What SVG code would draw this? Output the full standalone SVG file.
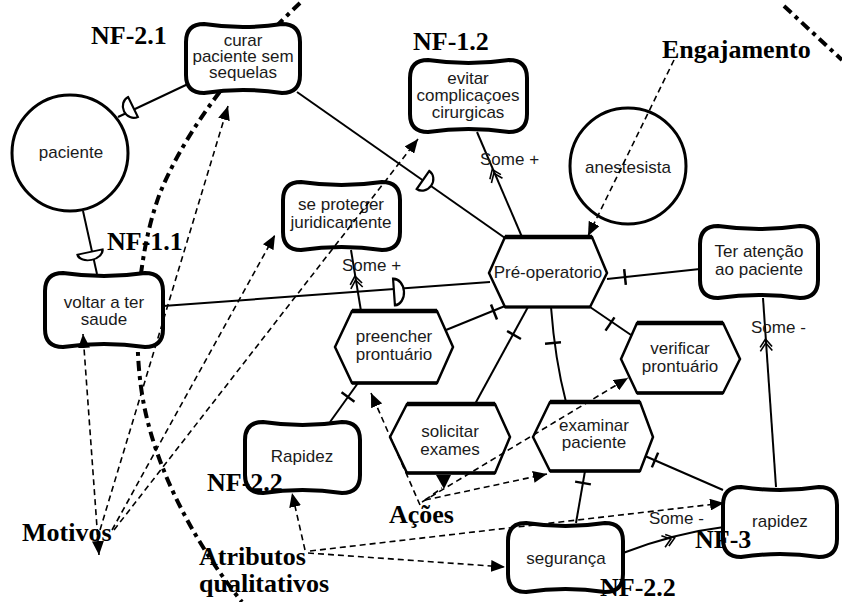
<svg xmlns="http://www.w3.org/2000/svg" xmlns:xlink="http://www.w3.org/1999/xlink" width="842" height="602" viewBox="0 0 842 602">
<style>
.bg{fill:#fff}
.soft{fill:#fff;stroke:#000;stroke-width:4;stroke-linejoin:round}
.hex{fill:#fff;stroke:#000;stroke-width:2.5;stroke-linejoin:miter}
.edge{stroke:#000;stroke-width:4.5;fill:none}
.circ{fill:#fff;stroke:#000;stroke-width:3}
.t{font-family:"Liberation Sans",Arial,sans-serif;font-size:17px;fill:#1a1a1a;text-anchor:middle}
.s{font-family:"Liberation Sans",Arial,sans-serif;font-size:17px;fill:#1a1a1a}
.lbl{font-family:"Liberation Serif","Times New Roman",serif;font-size:26px;font-weight:bold;fill:#000}
.ln{stroke:#000;stroke-width:2;fill:none}
.dash{stroke:#000;stroke-width:1.6;fill:none;stroke-dasharray:6 4}
.thick{stroke:#000;stroke-width:4;fill:none;stroke-dasharray:10 5 4 5}
.dep{fill:#fff;stroke:#000;stroke-width:2.2}
.tick{stroke:#000;stroke-width:2.5;fill:none}
.ctb{stroke:#000;stroke-width:1.6;fill:none}
</style>
<defs>
<marker id="ah" viewBox="0 0 14 12" refX="14" refY="6" markerWidth="14" markerHeight="12" markerUnits="userSpaceOnUse" orient="auto-start-reverse"><path d="M0,0 L14,6 L0,12 Z" fill="#000"/></marker>
<path id="dsym" d="M0,-11 L0,11 A10,11 0 0 0 0,-11 Z"/>
<path id="tk" d="M0,-8 L0,8"/>
<path id="cb" d="M-5,-6 L3,0 L-5,6 M-1,-6 L7,0 L-1,6"/>
</defs>
<rect class="bg" x="0" y="0" width="842" height="602"/>

<g id="backdrop-curves">
<path class="thick" d="M300,3 C250,50 190,120 160,193 C135,260 132,350 145,410 C160,480 200,550 242,602"/>
<path class="thick" d="M784,6 L842,60"/>
</g>

<g id="solid-connectors">
<path class="ln" d="M188,84 L118,117"/>
<path class="ln" d="M297,92 L505,238"/>
<path class="ln" d="M83,211 L97,274"/>
<path class="ln" d="M163,306 L490,282"/>
<path class="ln" d="M477,132 L522,237"/>
<path class="ln" d="M351,250 L361,311"/>
<path class="ln" d="M607,279 L700,269"/>
<path class="ln" d="M446,330 L505,306"/>
<path class="ln" d="M528,307 L475,404"/>
<path class="ln" d="M551,307 Q555,360 566,402"/>
<path class="ln" d="M590,307 L631,335"/>
<path class="ln" d="M763,298 L776,487"/>
<path class="ln" d="M723,490 L645,456"/>
<path class="ln" d="M585,471 L576,523"/>
<path class="ln" d="M330,422 L358,383"/>
<path class="ln" d="M623,553 Q675,533 724,527"/>
<use href="#dsym" class="dep" transform="translate(133,107) rotate(154)"/>
<use href="#dsym" class="dep" transform="translate(423,180) rotate(35)"/>
<use href="#dsym" class="dep" transform="translate(90,252) rotate(78) scale(0.8,1.15)"/>
<use href="#dsym" class="dep" transform="translate(394,292) rotate(-4) scale(1,1.2)"/>
<use href="#tk" class="tick" transform="translate(625,277) rotate(-6)"/>
<use href="#tk" class="tick" transform="translate(494,312) rotate(-22)"/>
<use href="#tk" class="tick" transform="translate(514,335) rotate(120)"/>
<use href="#tk" class="tick" transform="translate(553,343) rotate(85)"/>
<use href="#tk" class="tick" transform="translate(610,324) rotate(34)"/>
<use href="#tk" class="tick" transform="translate(655,460) rotate(23)"/>
<use href="#tk" class="tick" transform="translate(583,483) rotate(100)"/>
<use href="#tk" class="tick" transform="translate(348,397) rotate(-54)"/>
<use href="#cb" class="ctb" transform="translate(495,176) rotate(-113)"/>
<use href="#cb" class="ctb" transform="translate(356,283) rotate(-99)"/>
<use href="#cb" class="ctb" transform="translate(766,346) rotate(-94)"/>
<use href="#cb" class="ctb" transform="translate(668,540) rotate(-18)"/>
<text class="s" x="480" y="165">Some +</text>
<text class="s" x="342" y="271">Some +</text>
<text class="s" x="751" y="333">Some -</text>
<text class="s" x="649" y="524">Some -</text>
</g>

<g id="node-curar">
<path class="soft" d="M204,24 Q243,30 282,24 Q300,24 300,42 L300,75 Q300,93 282,93 Q243,87 204,93 Q186,93 186,75 L186,42 Q186,24 204,24 Z"/>
<text class="t" x="243" y="46">curar</text>
<text class="t" x="243" y="62">paciente sem</text>
<text class="t" x="243" y="78">sequelas</text>
</g>
<g id="node-paciente">
<circle class="circ" cx="70" cy="153" r="58"/>
<text class="t" x="71" y="158">paciente</text>
</g>
<g id="node-evitar">
<path class="soft" d="M428,60 Q468.5,66 509,60 Q527,60 527,78 L527,114 Q527,132 509,132 Q468.5,126 428,132 Q410,132 410,114 L410,78 Q410,60 428,60 Z"/>
<text class="t" x="468" y="84">evitar</text>
<text class="t" x="468" y="101">complicaçoes</text>
<text class="t" x="468" y="118">cirurgicas</text>
</g>
<g id="node-anestesista">
<circle class="circ" cx="628" cy="166" r="58"/>
<text class="t" x="628" y="173">anestesista</text>
</g>
<g id="node-proteger">
<path class="soft" d="M301,182 Q341.5,188 382,182 Q400,182 400,200 L400,232 Q400,250 382,250 Q341.5,244 301,250 Q283,250 283,232 L283,200 Q283,182 301,182 Z"/>
<text class="t" x="341" y="210">se proteger</text>
<text class="t" x="341" y="228">juridicamente</text>
</g>
<g id="node-preoperatorio">
<polygon class="hex" points="489,273 505,237 592,237 607,273 590,307 505,307"/>
<path class="edge" d="M505,237 L592,237"/>
<path class="ln" d="M505,307 L590,307" style="stroke-width:3"/>
<text class="t" x="548" y="278">Pré-operatorio</text>
</g>
<g id="node-teratencao">
<path class="soft" d="M718,226 Q759,232 800,226 Q818,226 818,244 L818,280 Q818,298 800,298 Q759,292 718,298 Q700,298 700,280 L700,244 Q700,226 718,226 Z"/>
<text class="t" x="759" y="257">Ter atenção</text>
<text class="t" x="759" y="275">ao paciente</text>
</g>
<g id="node-voltar">
<path class="soft" d="M63,273 Q104,279 145,273 Q163,273 163,291 L163,329 Q163,347 145,347 Q104,341 63,347 Q45,347 45,329 L45,291 Q45,273 63,273 Z"/>
<text class="t" x="104" y="308">voltar a ter</text>
<text class="t" x="104" y="325">saude</text>
</g>
<g id="node-preencher">
<polygon class="hex" points="335,347 352,311 437,311 453,347 437,383 352,383"/>
<path class="edge" d="M352,311 L437,311"/>
<path class="edge" d="M352,383 L437,383" style="stroke-width:3.5"/>
<text class="t" x="394" y="342">preencher</text>
<text class="t" x="394" y="360">prontuário</text>
</g>
<g id="node-verificar">
<polygon class="hex" points="621,359 637,323 723,323 740,359 723,393 637,393"/>
<path class="edge" d="M637,323 L723,323"/>
<path class="edge" d="M637,393 L723,393" style="stroke-width:3.5"/>
<text class="t" x="680" y="354">verificar</text>
<text class="t" x="680" y="372">prontuário</text>
</g>
<g id="node-solicitar">
<polygon class="hex" points="390,437 407,404 495,404 510,437 495,473 407,473"/>
<path class="edge" d="M407,404 L495,404"/>
<path class="edge" d="M407,473 L495,473" style="stroke-width:3.5"/>
<text class="t" x="450" y="437">solicitar</text>
<text class="t" x="450" y="455">exames</text>
</g>
<g id="node-examinar">
<polygon class="hex" points="533,437 550,402 640,402 653,437 640,471 550,471"/>
<path class="edge" d="M550,402 L640,402"/>
<path class="edge" d="M550,471 L640,471" style="stroke-width:3.5"/>
<text class="t" x="594" y="431">examinar</text>
<text class="t" x="594" y="448">paciente</text>
</g>
<g id="node-Rapidez">
<path class="soft" d="M263,422 Q302.5,428 342,422 Q360,422 360,440 L360,475 Q360,493 342,493 Q302.5,487 263,493 Q245,493 245,475 L245,440 Q245,422 263,422 Z"/>
<text class="t" x="302" y="462">Rapidez</text>
</g>
<g id="node-seguranca">
<path class="soft" d="M526,523 Q565.5,529 605,523 Q623,523 623,541 L623,574 Q623,592 605,592 Q565.5,586 526,592 Q508,592 508,574 L508,541 Q508,523 526,523 Z"/>
<text class="t" x="566" y="564">segurança</text>
</g>
<g id="node-rapidez">
<path class="soft" d="M741,487 Q780,493 819,487 Q837,487 837,505 L837,539 Q837,557 819,557 Q780,551 741,557 Q723,557 723,539 L723,505 Q723,487 741,487 Z"/>
<text class="t" x="780" y="527">rapidez</text>
</g>

<g id="dashed-connectors">
<path class="dash" d="M99,555 L83,334" marker-start="url(#ah)" marker-end="url(#ah)"/>
<path class="dash" d="M100,530 L228,106" marker-end="url(#ah)"/>
<path class="dash" d="M112,530 L275,235" marker-end="url(#ah)"/>
<path class="dash" d="M114,530 L418,139" marker-end="url(#ah)"/>
<path class="dash" d="M674,60 L588,236" marker-end="url(#ah)"/>
<path class="dash" d="M420,505 L371,393" marker-end="url(#ah)"/>
<path class="dash" d="M425,500 L442,488"/>
<polygon points="436,475 451,475 444,489" fill="#000"/>
<path class="dash" d="M425,500 L547,474" marker-end="url(#ah)"/>
<path class="dash" d="M422,502 L628,378" marker-end="url(#ah)"/>
<path class="dash" d="M305,550 L292,493" marker-end="url(#ah)"/>
<path class="dash" d="M308,553 L505,567" marker-end="url(#ah)"/>
<path class="dash" d="M310,551 L724,503" marker-end="url(#ah)"/>
</g>

<g id="labels">
<text class="lbl" x="91" y="44">NF-2.1</text>
<text class="lbl" x="413" y="50">NF-1.2</text>
<text class="lbl" x="662" y="58">Engajamento</text>
<text class="lbl" x="107" y="250">NF-1.1</text>
<text class="lbl" x="207" y="491">NF-2.2</text>
<text class="lbl" x="22" y="541">Motivos</text>
<text class="lbl" x="199" y="565">Atributos</text>
<text class="lbl" x="199" y="592">qualitativos</text>
<text class="lbl" x="389" y="523">Ações</text>
<text class="lbl" x="695" y="548">NF-3</text>
<text class="lbl" x="600" y="596">NF-2.2</text>
</g>
</svg>
